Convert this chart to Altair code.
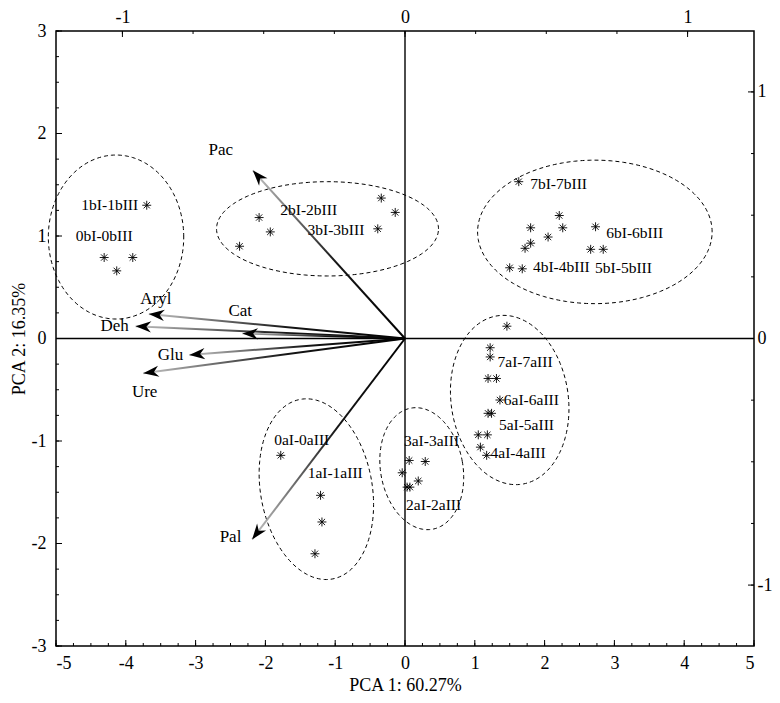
import altair as alt
import pandas as pd
import numpy as np

W, H = 698, 615
XMIN, XMAX = -5, 5
YMIN, YMAX = -3, 3
SX = W / (XMAX - XMIN)
SY = H / (YMAX - YMIN)
FONT = "Liberation Serif"

# ---- sample scores (asterisks) ----
star_x = [-3.70, -4.31, -3.90, -4.13,
          -2.09, -1.93, -2.37, -0.34, -0.14, -0.39,
          1.63, 2.21, 1.80, 2.26, 2.05, 2.73, 1.80, 1.72, 2.66, 2.84, 1.50, 1.68,
          -1.78, -1.21, -1.19, -1.29,
          0.06, 0.29, -0.04, 0.19, 0.07, 0.03,
          1.46, 1.22, 1.22, 1.19, 1.31, 1.36, 1.19, 1.24, 1.05, 1.18, 1.08, 1.17]
star_y = [1.30, 0.79, 0.79, 0.66,
          1.18, 1.04, 0.90, 1.37, 1.23, 1.07,
          1.53, 1.20, 1.08, 1.08, 0.99, 1.09, 0.93, 0.88, 0.87, 0.87, 0.69, 0.68,
          -1.14, -1.53, -1.79, -2.10,
          -1.19, -1.20, -1.31, -1.39, -1.45, -1.45,
          0.12, -0.09, -0.18, -0.39, -0.39, -0.60, -0.73, -0.73, -0.94, -0.94, -1.06, -1.14]

# ---- group labels ----
grp_names = ["1bI-1bIII", "0bI-0bIII", "2bI-2bIII", "3bI-3bIII",
             "7bI-7bIII", "6bI-6bIII", "4bI-4bIII", "5bI-5bIII",
             "0aI-0aIII", "1aI-1aIII", "3aI-3aIII", "2aI-2aIII",
             "7aI-7aIII", "6aI-6aIII", "5aI-5aIII", "4aI-4aIII"]
grp_x = [-4.23, -4.31, -1.38, -0.99, 2.20, 3.29, 2.24, 3.13,
         -1.48, -1.00, 0.38, 0.41, 1.72, 1.81, 1.74, 1.62]
grp_y = [1.30, 1.00, 1.25, 1.06, 1.51, 1.03, 0.70, 0.69,
         -0.99, -1.31, -1.00, -1.62, -0.23, -0.60, -0.84, -1.12]

# ---- variable loadings (arrows) ----
var_names = ["Pac", "Aryl", "Deh", "Cat", "Glu", "Ure", "Pal"]
var_x = [-2.18, -3.67, -3.86, -2.33, -3.09, -3.75, -2.19]
var_y = [1.64, 0.24, 0.12, 0.05, -0.16, -0.34, -1.96]
var_lab_x = [-2.64, -3.57, -4.16, -2.36, -3.36, -3.73, -2.50]
var_lab_y = [1.84, 0.39, 0.12, 0.27, -0.16, -0.52, -1.94]

# ---- group ellipses ----
ell_cx = [-4.14, -1.11, 2.72, -1.27, 0.24, 1.50]
ell_cy = [0.99, 1.07, 1.04, -1.47, -1.27, -0.60]
ell_rx = [0.97, 1.59, 1.68, 0.80, 0.59, 0.84]
ell_ry = [0.80, 0.46, 0.70, 0.89, 0.60, 0.83]
ell_rot = [0, 0, 0, 10, 10, 8]

# ---- ticks ----
x_labels = list(range(-5, 6))
y_labels = list(range(-3, 4))
x_minor = [v / 4 for v in range(-20, 21)]
y_minor = [v / 4 for v in range(-12, 13)]
top_labels = [-1, 0, 1]
right_labels = [-1, 0, 1]
top_minor = [v / 4 for v in range(-4, 5)]
right_minor = [v / 4 for v in range(-4, 5)]
TOP_HALF = 1.235
RIGHT_HALF = 1.247

xs = alt.Scale(domain=[XMIN, XMAX], nice=False, zero=False)
ys = alt.Scale(domain=[YMIN, YMAX], nice=False, zero=False)
ts = alt.Scale(domain=[-TOP_HALF, TOP_HALF], nice=False, zero=False)
rs = alt.Scale(domain=[-RIGHT_HALF, RIGHT_HALF], nice=False, zero=False)

AX = dict(ticks=False, domain=False, grid=False, labelExpr="datum.value + ''",
          labelFont=FONT, labelFontSize=18, labelColor="black",
          titleFont=FONT, titleFontSize=18, titleFontWeight="normal", titleColor="black")
XAX = alt.Axis(values=x_labels, labelPadding=8, title="PCA 1: 60.27%", titlePadding=4, **AX)
YAX = alt.Axis(values=y_labels, labelPadding=10, title="PCA 2: 16.35%", titlePadding=3, **AX)
TAX = alt.Axis(orient="top", values=top_labels, labelPadding=5, title=None, **AX)
RAX = alt.Axis(orient="right", values=right_labels, labelPadding=3, title=None, **AX)


def X(field="x"):
    return alt.X(f"{field}:Q", scale=xs, axis=XAX)


def Y(field="y"):
    return alt.Y(f"{field}:Q", scale=ys, axis=YAX)


def XT(field="xt"):
    return alt.X(f"{field}:Q", scale=ts, axis=TAX)


def YR(field="yr"):
    return alt.Y(f"{field}:Q", scale=rs, axis=RAX)


# zero lines
zero_v = alt.Chart(pd.DataFrame({"x": [0]})).mark_rule(color="black", strokeWidth=1.4).encode(x=X())
zero_h = alt.Chart(pd.DataFrame({"y": [0]})).mark_rule(color="black", strokeWidth=1.4).encode(y=Y())

# ellipses
rows = []
phis = np.linspace(0, 2 * np.pi, 181)
for i in range(len(ell_cx)):
    r = np.deg2rad(ell_rot[i])
    for k, p in enumerate(phis):
        u = ell_rx[i] * SX * np.cos(p)
        v = ell_ry[i] * SY * np.sin(p)
        uu = u * np.cos(r) - v * np.sin(r)
        vv = u * np.sin(r) + v * np.cos(r)
        rows.append({"g": i, "k": k, "x": ell_cx[i] + uu / SX, "y": ell_cy[i] + vv / SY})
ell = alt.Chart(pd.DataFrame(rows)).mark_line(
    color="black", strokeWidth=1, strokeDash=[4, 3]
).encode(x=X(), y=Y(), detail="g:N", order="k:Q")

# stars
STAR = "M-1,0L1,0M0,-1L0,1M-0.7,-0.7L0.7,0.7M-0.7,0.7L0.7,-0.7"
stars = alt.Chart(pd.DataFrame({"x": star_x, "y": star_y})).mark_point(
    shape=STAR, size=80, filled=False, color="black", strokeWidth=0.9, opacity=1
).encode(x=X(), y=Y())

grp_text = alt.Chart(pd.DataFrame({"x": grp_x, "y": grp_y, "t": grp_names})).mark_text(
    font=FONT, fontSize=15.5, color="black", align="center", baseline="middle"
).encode(x=X(), y=Y(), text="t:N")

# arrows with gradient shafts
arrow_layers = []
for i, n in enumerate(var_names):
    dx, dy = var_x[i], var_y[i]
    x1 = 1 if dx < 0 else 0
    y1 = 1 if dy > 0 else 0
    grad = alt.LinearGradient(
        gradient="linear",
        stops=[alt.GradientStop(color="#000000", offset=0),
               alt.GradientStop(color="#151515", offset=0.45),
               alt.GradientStop(color="#c4c4c4", offset=1)],
        x1=x1, y1=y1, x2=1 - x1, y2=1 - y1,
    )
    df = pd.DataFrame({"x": [0, dx], "y": [0, dy], "k": [0, 1]})
    arrow_layers.append(
        alt.Chart(df).mark_line(stroke=grad, strokeWidth=2).encode(x=X(), y=Y(), order="k:Q")
    )

ang = [float(np.degrees(np.arctan2(var_x[i] * SX, var_y[i] * SY)) % 360) for i in range(len(var_names))]
HEAD = "M0,0L0.65,1.8L0,1.25L-0.65,1.8Z"
heads = alt.Chart(pd.DataFrame({"x": var_x, "y": var_y, "a": ang})).mark_point(
    shape=HEAD, size=300, filled=True, color="black", opacity=1, strokeWidth=0
).encode(x=X(), y=Y(), angle=alt.Angle("a:Q", scale=None))

var_text = alt.Chart(pd.DataFrame({"x": var_lab_x, "y": var_lab_y, "t": var_names})).mark_text(
    font=FONT, fontSize=17, color="black", align="center", baseline="middle"
).encode(x=X(), y=Y(), text="t:N")

# inward ticks on bottom and left
bottom_major = alt.Chart(pd.DataFrame({"x": x_labels})).mark_rule(color="black", strokeWidth=1).encode(
    x=X(), y=alt.value(H), y2=alt.value(H - 6))
bottom_minor = alt.Chart(pd.DataFrame({"x": x_minor})).mark_rule(color="black", strokeWidth=1).encode(
    x=X(), y=alt.value(H), y2=alt.value(H - 3))
left_minor = alt.Chart(pd.DataFrame({"y": y_minor})).mark_rule(color="black", strokeWidth=1).encode(
    y=Y(), x=alt.value(0), x2=alt.value(3))
left_major = alt.Chart(pd.DataFrame({"y": y_labels})).mark_rule(color="black", strokeWidth=1).encode(
    y=Y(), x=alt.value(0), x2=alt.value(6))

main = alt.layer(
    zero_v, zero_h, ell, stars, *arrow_layers, heads, var_text, grp_text,
    bottom_minor, bottom_major, left_minor, left_major,
)

# secondary (top / right) axes with inward ticks
top_minor_l = alt.Chart(pd.DataFrame({"xt": top_minor})).mark_rule(color="black", strokeWidth=1).encode(
    x=XT(), y=alt.value(0), y2=alt.value(3))
top_major_l = alt.Chart(pd.DataFrame({"xt": top_labels})).mark_rule(color="black", strokeWidth=1).encode(
    x=XT(), y=alt.value(0), y2=alt.value(6))
right_minor_l = alt.Chart(pd.DataFrame({"yr": right_minor})).mark_rule(color="black", strokeWidth=1).encode(
    y=YR(), x=alt.value(W), x2=alt.value(W - 3))
right_major_l = alt.Chart(pd.DataFrame({"yr": right_labels})).mark_rule(color="black", strokeWidth=1).encode(
    y=YR(), x=alt.value(W), x2=alt.value(W - 6))

sec = alt.layer(top_minor_l, top_major_l, right_minor_l, right_major_l)

chart = alt.layer(main, sec).resolve_scale(x="independent", y="independent").properties(
    width=W, height=H,
    autosize=alt.AutoSizeParams(type="none"),
    padding={"left": 48, "top": 23, "right": 18, "bottom": 48},
    background="white",
).configure_view(stroke="black", strokeWidth=1.5)

chart.save("out.html", embed_options={"renderer": "svg", "actions": False})
